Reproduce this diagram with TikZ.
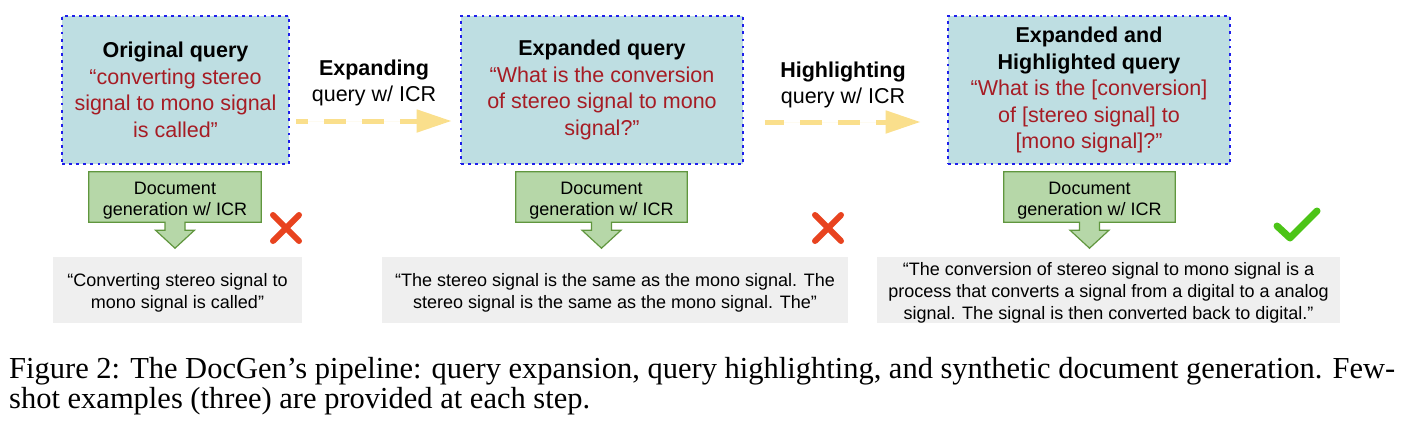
\documentclass[tikz,border=0pt]{standalone}
\usepackage{fontspec}
\setmainfont{Liberation Sans}
\newfontfamily\capfont{Liberation Serif}
\usepackage{xcolor}
\usetikzlibrary{arrows.meta, positioning, calc, backgrounds}

\definecolor{qfill}{RGB}{190,222,226}
\definecolor{qline}{RGB}{30,30,235}
\definecolor{qred}{RGB}{166,28,36}
\definecolor{stepyellow}{RGB}{250,223,140}
\definecolor{gfill}{RGB}{182,215,168}
\definecolor{gline}{RGB}{96,150,62}
\definecolor{outgray}{RGB}{239,239,239}
\definecolor{crossred}{RGB}{232,67,31}
\definecolor{tickgreen}{RGB}{76,196,23}

% lowers a text block a little inside its box
\newcommand{\lowstrut}{\rule{0pt}{19pt}}

\begin{document}
\begin{tikzpicture}[
    x=1pt, y=-1pt,
    query/.style={rectangle, draw=qline, fill=qfill, line width=2.8pt, dash pattern=on 2.8pt off 4.3pt,
        minimum height=148pt, align=center, inner sep=0pt, font=\fontsize{21.5}{26.5}\selectfont},
    gen/.style={rectangle, minimum width=172pt, minimum height=50pt, align=center, inner sep=0pt,
        font=\fontsize{18}{21}\selectfont},
    genarrow/.style={fill=gfill, draw=gline, line width=1.2pt, line join=miter},
    output/.style={rectangle, fill=outgray, minimum height=66pt, align=center, inner sep=0pt,
        font=\fontsize{18}{21.8}\selectfont},
    stepline/.style={draw=stepyellow, fill=stepyellow, line width=5pt, dash pattern=on 22pt off 16pt,
        -{Triangle[length=35pt, width=22pt]}},
    steplabel/.style={align=center, fill=none, font=\fontsize{21.5}{26}\selectfont},
    cross/.style={crossred, line width=6pt, line cap=round},
    tick/.style={tickgreen, line width=7pt, line cap=round, line join=round}
]
    \useasboundingbox (0,0) rectangle (1404,420);

    % Queries
    \node[query, minimum width=227pt] (q1) at (175.5,90) {\textbf{Original query}\\\textcolor{qred}{“converting stereo}\\\textcolor{qred}{signal to mono signal}\\\textcolor{qred}{is called”}};
    \node[query, minimum width=282pt] (q2) at (602,90) {\textbf{Expanded query}\\\textcolor{qred}{“What is the conversion}\\\textcolor{qred}{of stereo signal to mono}\\\textcolor{qred}{signal?”}};
    \node[query, minimum width=282pt] (q3) at (1089,90) {\textbf{Expanded and}\\\textbf{Highlighted query}\\\textcolor{qred}{“What is the [conversion]}\\\textcolor{qred}{of [stereo signal] to}\\\textcolor{qred}{[mono signal]?”}};

    % Steps between queries
    \draw[stepline, dash phase=10pt] ($(q1.east)+(6,31)$) -- node[steplabel, above=9pt] {\textbf{Expanding}\\query w/ ICR} ($(q2.west)+(-8,31)$);
    \draw[stepline, dash phase=3pt] ($(q2.east)+(21,32)$) -- node[steplabel, above=8pt] {\textbf{Highlighting}\\query w/ ICR} ($(q3.west)+(-26,32)$);

    % Document generation
    \node[gen] (g1) at (175,197) {\lowstrut Document\\generation w/ ICR};
    \node[gen, minimum width=171pt] (g2) at (601.5,197) {\lowstrut Document\\generation w/ ICR};
    \node[gen, minimum width=171pt] (g3) at (1089.5,197) {\lowstrut Document\\generation w/ ICR};
    \begin{scope}[on background layer]
        \foreach \g in {g1,g2,g3}
            \draw[genarrow] (\g.south west) -- (\g.north west) -- (\g.north east) -- (\g.south east)
                -- ($(\g.south)+(10,0)$) -- ($(\g.south)+(10,8)$) -- ($(\g.south)+(19.5,8)$)
                -- ($(\g.south)+(0,26)$) -- ($(\g.south)+(-19.5,8)$) -- ($(\g.south)+(-10,8)$)
                -- ($(\g.south)+(-10,0)$) -- cycle;
    \end{scope}

    % Outputs
    \node[output, minimum width=249pt] (o1) at (177.5,290) {\lowstrut“Converting stereo signal to\\mono signal is called”};
    \node[output, minimum width=466pt] (o2) at (615,290) {\lowstrut“The stereo signal is the same as the mono signal. The\\stereo signal is the same as the mono signal. The”};
    \node[output, minimum width=463pt] (o3) at (1108.5,290) {\lowstrut“The conversion of stereo signal to mono signal is a\\process that converts a signal from a digital to a analog\\signal. The signal is then converted back to digital.”};

    % Verdicts
    \draw[cross] (273,215) -- (299,241) (299,215) -- (273,241);
    \draw[cross] (815,215) -- (841,241) (841,215) -- (815,241);
    \draw[tick] (1277,226) -- (1290,238) -- (1317,211);

    % Caption
    \node[anchor=base west, inner sep=0pt, font=\capfont\fontsize{30.5}{30}\selectfont] (cap1) at (9,378)
        {\makebox[1386pt][s]{Figure 2: The DocGen’s pipeline: query expansion, query highlighting, and synthetic document generation. Few-}};
    \node[anchor=base west, inner sep=0pt, font=\capfont\fontsize{30.5}{30}\selectfont] (cap2) at (9,408)
        {shot examples (three) are provided at each step.};
\end{tikzpicture}
\end{document}
